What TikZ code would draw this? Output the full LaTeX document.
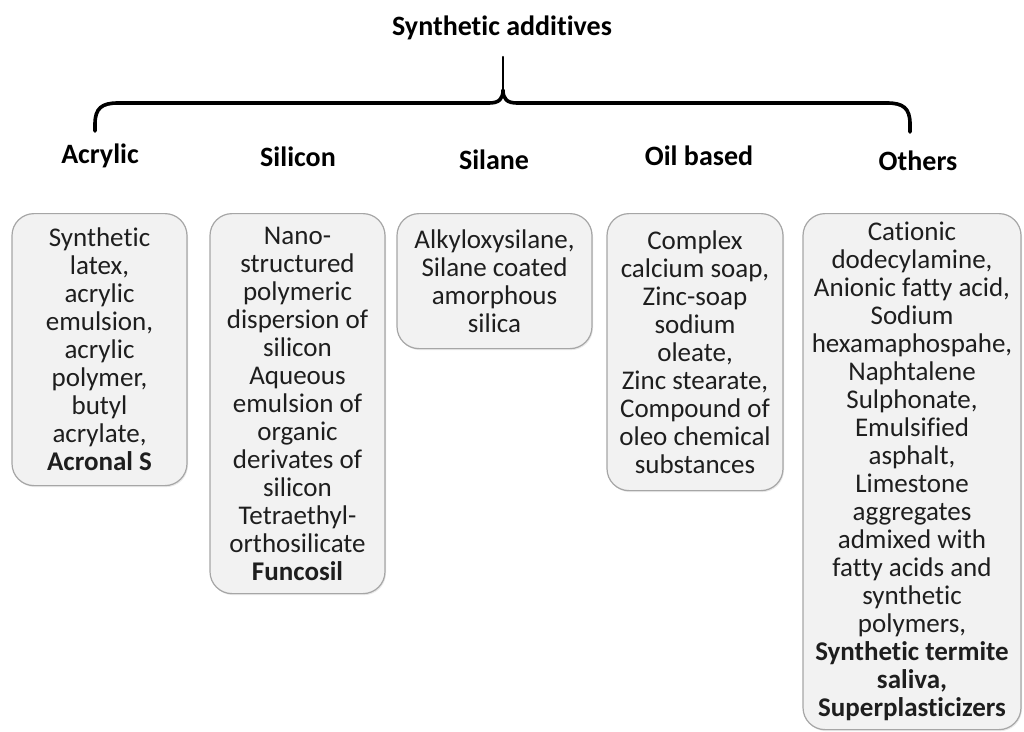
\documentclass[tikz,border=0pt]{standalone}
\usepackage{fontspec}
\setmainfont{Carlito}[Ligatures={NoCommon}]
\usetikzlibrary{positioning,shadows}
\definecolor{cardfill}{HTML}{F2F2F2}
\definecolor{cardline}{HTML}{A6A6A6}
\definecolor{cardtext}{HTML}{1E1E1E}
\begin{document}
\begin{tikzpicture}[x=1pt,y=-1pt, line join=round, line cap=round,
	head/.style={anchor=base, font=\fontsize{28}{30}\selectfont\bfseries},
	card/.style={draw=cardline, fill=cardfill, line width=1.2pt, rounded corners=22pt,
		align=center, anchor=north, inner sep=0pt, text=cardtext,
		font=\fontsize{27}{28}\selectfont,
		drop shadow={opacity=0.18, shadow xshift=1pt, shadow yshift=-1.5pt}},
	brace/.style={line width=3.6pt}]
	\useasboundingbox (0,0) rectangle (1024,731);
	\node[head] (title) at (502,35) {Synthetic additives};
	% Klammer
	\coordinate (tip) at (503,57);
	\coordinate (bl) at (95,131);
	\coordinate (br) at (910,132);
	\draw[brace] (bl) -- (95,124) .. controls (95,108) and (102,103) .. (118,103) -- (489,103)
		.. controls (499,103) and (503,99) .. (503,90)
		.. controls (503,99) and (507,103) .. (517,103) -- (887,103)
		.. controls (903,103) and (910,108) .. (910,124) -- (br);
	\draw[line width=2.4pt] (503,92) -- (tip);
	% Gruppen
	\node[head] (acr) at (100,163) {Acrylic};
	\node[head] (sico) at (298,166) {Silicon};
	\node[head] (sila) at (494,169) {Silane};
	\node[head] (oil) at (699,165) {Oil based};
	\node[head] (oth) at (918,170) {Others};
	% Kaesten
	\node[card, minimum width=175pt, minimum height=272pt] (acrbox) at (99.5,213)
		{Synthetic\\ latex,\\ acrylic\\ emulsion,\\ acrylic\\ polymer,\\ butyl\\ acrylate,\\ \textbf{Acronal S}};
	\node[card, minimum width=175pt, minimum height=380pt] (sicobox) at (297.5,213)
		{Nano-\\ structured\\ polymeric\\ dispersion of\\ silicon\\ Aqueous\\ emulsion of\\ organic\\ derivates of\\ silicon\\ Tetraethyl-\\ orthosilicate\\ \textbf{Funcosil}};
	\node[card, minimum width=195pt, minimum height=135pt] (silabox) at (494.5,213)
		{Alkyloxysilane,\\ Silane coated\\ amorphous\\ silica};
	\node[card, minimum width=176pt, minimum height=277pt] (oilbox) at (695,213)
		{Complex\\ calcium soap,\\ Zinc-soap\\ sodium\\ oleate,\\ Zinc stearate,\\ Compound of\\ oleo chemical\\ substances};
	\node[card, minimum width=218pt, minimum height=516pt] (othbox) at (912,213)
		{Cationic\\ dodecylamine,\\ Anionic fatty acid,\\ Sodium\\ hexamaphospahe,\\ Naphtalene\\ Sulphonate,\\ Emulsified\\ asphalt,\\ Limestone\\ aggregates\\ admixed with\\ fatty acids and\\ synthetic\\ polymers,\\ \textbf{Synthetic termite}\\ \textbf{saliva,}\\ \textbf{Superplasticizers}};
\end{tikzpicture}
\end{document}
